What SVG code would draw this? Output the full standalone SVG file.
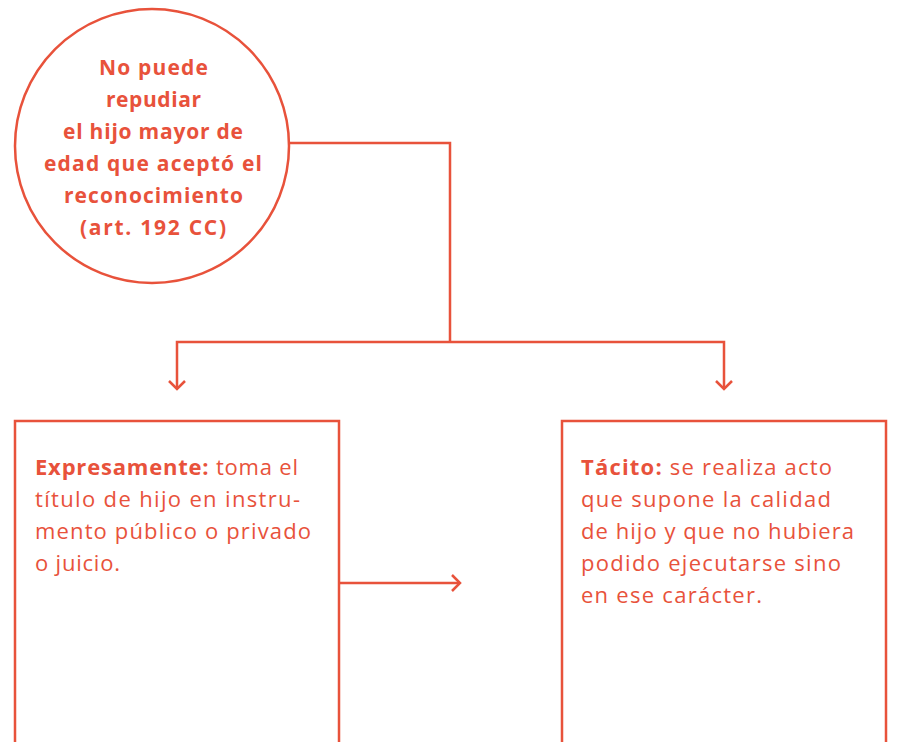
<svg xmlns="http://www.w3.org/2000/svg" width="897" height="742" viewBox="0 0 897 742">
<style>
.s{fill:none;stroke:#E8523B;stroke-width:2.5}
.t{font-family:"Open Sans","Noto Sans",sans-serif;font-size:21px;fill:#E8523B}
.r{font-size:22px}
.b{font-weight:bold}
.c{text-anchor:middle;font-weight:bold}
</style>
<defs>
<marker id="a" markerWidth="20" markerHeight="20" refX="10" refY="10" orient="auto" markerUnits="userSpaceOnUse">
<path d="M2,2 L10,10 L2,18" fill="none" stroke="#E8523B" stroke-width="2.5"/>
</marker>
</defs>
<g id="connectors">
<path class="s" d="M289,143 H450 V342"/>
<path class="s" d="M450,342 H177 V389" marker-end="url(#a)"/>
<path class="s" d="M450,342 H724 V389" marker-end="url(#a)"/>
<path class="s" d="M339,583 H460" marker-end="url(#a)"/>
</g>
<g id="circle">
<circle class="s" cx="152" cy="146" r="137" fill="#fff"/>
<text class="t c" x="153.5" y="75" textLength="109" lengthAdjust="spacing">No puede</text>
<text class="t c" x="153.5" y="107" textLength="95" lengthAdjust="spacing">repudiar</text>
<text class="t c" x="153" y="139" textLength="180" lengthAdjust="spacing">el hijo mayor de</text>
<text class="t c" x="153" y="171" textLength="218" lengthAdjust="spacing">edad que aceptó el</text>
<text class="t c" x="153.5" y="203" textLength="179" lengthAdjust="spacing">reconocimiento</text>
<text class="t c" x="153" y="235" textLength="146" lengthAdjust="spacing">(art. 192 CC)</text>
</g>
<g id="expresamente">
<rect class="s" x="15" y="421" width="324" height="340"/>
<text class="t r" x="35" y="475" textLength="263" lengthAdjust="spacing"><tspan class="b">Expresamente:</tspan> toma el</text>
<text class="t r" x="35" y="507" textLength="265" lengthAdjust="spacing">título de hijo en instru-</text>
<text class="t r" x="35" y="539" textLength="276" lengthAdjust="spacing">mento público o privado</text>
<text class="t r" x="35" y="571" textLength="85" lengthAdjust="spacing">o juicio.</text>
</g>
<g id="tacito">
<rect class="s" x="562" y="421" width="324" height="340"/>
<text class="t r" x="581" y="475" textLength="251" lengthAdjust="spacing"><tspan class="b">Tácito:</tspan> se realiza acto</text>
<text class="t r" x="581" y="507" textLength="250" lengthAdjust="spacing">que supone la calidad</text>
<text class="t r" x="581" y="539" textLength="273" lengthAdjust="spacing">de hijo y que no hubiera</text>
<text class="t r" x="581" y="571" textLength="260" lengthAdjust="spacing">podido ejecutarse sino</text>
<text class="t r" x="581" y="603" textLength="181" lengthAdjust="spacing">en ese carácter.</text>
</g>
</svg>
